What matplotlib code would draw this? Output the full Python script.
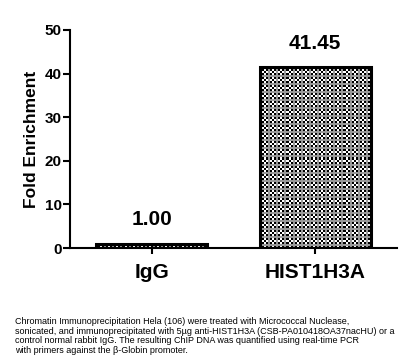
import matplotlib
matplotlib.use("Agg")
import matplotlib.pyplot as plt
import numpy as np

groups = ["IgG", "HIST1H3A"]
fold = [1.00, 41.45]
value_labels = ["1.00", "41.45"]
yticks = [0, 10, 20, 30, 40, 50]
caption = ("Chromatin Immunoprecipitation Hela (106) were treated with Micrococcal Nuclease,\n"
           "sonicated, and immunoprecipitated with 5\u00b5g anti-HIST1H3A (CSB-PA010418OA37nacHU) or a\n"
           "control normal rabbit IgG. The resulting ChIP DNA was quantified using real-time PCR\n"
           "with primers against the \u03b2-Globin promoter.")

plt.rcParams['font.family'] = ['Liberation Sans', 'DejaVu Sans']

fig = plt.figure(figsize=(4.08, 3.6), dpi=100)
ax = fig.add_axes([0.1716, 0.311, 0.8014, 0.6057])

xs = range(len(groups))
bars = ax.bar(xs, fold, width=0.68, facecolor='none', edgecolor='black',
              linewidth=2.2, zorder=3)
for x, v, lab in zip(xs, fold, value_labels):
    ax.annotate(lab, (x, v), xytext=(0, 10.5), textcoords='offset points',
                ha='center', va='bottom', fontsize=15, fontweight='bold')

ax.set_xlim(-0.5, 1.5)
ax.set_ylim(0, 50)

# checkerboard fill like the original (2px squares, grey grid every 8px)
for b in bars:
    x0, y0 = b.get_x(), b.get_y()
    x1, y1 = x0 + b.get_width(), y0 + b.get_height()
    p0 = ax.transData.transform((x0, y0))
    p1 = ax.transData.transform((x1, y1))
    nc = max(int(abs(p1[0] - p0[0]) / 2), 1)
    nr = max(int(abs(p1[1] - p0[1]) / 2), 1)
    ii, jj = np.indices((nr, nc))
    tex = ((ii + jj) % 2).astype(float)
    tex[ii % 4 == 0] = 0.6
    tex[:, ::4] = 0.6
    ax.imshow(tex, cmap='gray', vmin=0, vmax=1, extent=(x0, x1, y0, y1),
              interpolation='nearest', aspect='auto', clip_path=b, zorder=2)
ax.set_xlim(-0.5, 1.5)
ax.set_ylim(0, 50)

ax.set_yticks(yticks)
ax.set_xticks(list(xs))
ax.set_xticklabels(groups, fontsize=15, fontweight='bold')
ax.tick_params(axis='y', labelsize=11, width=1.5, length=5, pad=1)
ax.tick_params(axis='x', width=1.5, length=4.5, pad=6)
for t in ax.get_yticklabels():
    t.set_fontweight('bold')
ax.set_ylabel("Fold Enrichment", fontsize=12.5, fontweight='bold', labelpad=4)
for s in ['top', 'right']:
    ax.spines[s].set_visible(False)
for s in ['left', 'bottom']:
    ax.spines[s].set_linewidth(1.5)

fig.text(0.037, 0.067, caption, fontsize=6.5, ha='left', va='center',
         linespacing=1.1)

fig.savefig("out.png", dpi=100)
